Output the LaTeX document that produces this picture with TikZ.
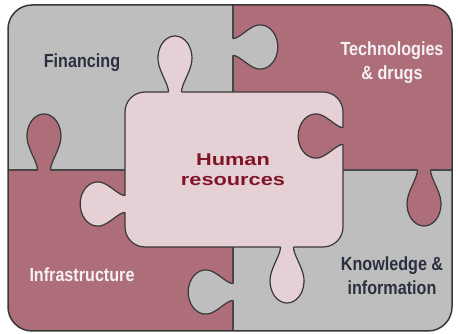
\documentclass[tikz,border=0pt]{standalone}
\usepackage{fontspec}
\setmainfont{Liberation Sans}
\newfontfamily\labelfont[FakeStretch=0.85]{Liberation Sans}
\newfontfamily\centrefont[FakeStretch=1.28]{Liberation Sans}
\usetikzlibrary{positioning}

\definecolor{piecegray}{HTML}{BEBEBE}
\definecolor{piecemauve}{HTML}{AD6E79}
\definecolor{piecepink}{HTML}{E5D1D5}
\definecolor{darklabel}{HTML}{2B3040}
\definecolor{lightlabel}{HTML}{F6F0F4}
\definecolor{centrelabel}{HTML}{821428}

\begin{document}
\begin{tikzpicture}[x=1pt, y=1pt,
    edge/.style={draw=black!78, line width=1.2pt},
    divider/.style={draw=black!72, line width=1.6pt},
    tabshape/.style={insert path={.. controls (-6.5,7) and (-13.1,16.2) .. (-16,26.5)
        arc[start angle=200, end angle=-20, x radius=17, y radius=22]
        .. controls (13.1,16.2) and (6.5,7) .. (6.5,0)}},
    pics/tab/.style={code={
        \fill[#1] (6.5,-3) -- (-6.5,-3) -- (-6.5,0) [tabshape] -- cycle;
        \draw[edge] (-6.5,0) [tabshape];
    }},
    sideways/.style={xscale=1.3, yscale=0.8},
    label/.style={font=\labelfont\bfseries\fontsize{19}{24}\selectfont, align=center}
]
\useasboundingbox (0,0) rectangle (458,334);

% Quarters
\begin{scope}
    \clip[rounded corners=24pt] (8,3) rectangle (452,329);
    \fill[piecegray] (8,164) rectangle (233,329);
    \fill[piecemauve] (233,164) rectangle (452,329);
    \fill[piecemauve] (8,3) rectangle (233,164);
    \fill[piecegray] (233,3) rectangle (452,164);
\end{scope}
\draw[divider] (233,329) -- (233,242);
\draw[divider] (233,87) -- (233,3);
\draw[divider] (8,164) -- (125,164);
\draw[divider] (343,164) -- (452,164);

% Tabs between the quarters
\pic[rotate=-90, sideways] at (233,287) {tab=piecegray};
\pic at (44,164) {tab=piecemauve};
\pic[rotate=180] at (424,164) {tab=piecemauve};
\pic[rotate=90, sideways] at (233,42) {tab=piecegray};

% Centre piece
\draw[edge, fill=piecepink, rounded corners=20pt] (125,87) rectangle (343,242);
\pic at (175,242) {tab=piecepink};
\pic[rotate=90, sideways] at (125,130) {tab=piecepink};
\pic[rotate=180] at (287,87) {tab=piecepink};
\pic[rotate=90, sideways] at (343,198) {tab=piecemauve};

% Labels
\node[label, text=darklabel] (financing) at (82,271) {Financing};
\node[label, text=lightlabel] (technologies) at (392,271) {Technologies\\\& drugs};
\node[label, text=lightlabel] (infrastructure) at (82,59) {Infrastructure};
\node[label, text=darklabel] (knowledge) at (392,58) {Knowledge \&\\information};
\node[font=\centrefont\bfseries\fontsize{17}{20}\selectfont, align=center, text=centrelabel]
    (human) at (233,164) {Human\\resources};

% Frame
\draw[edge, line width=1.5pt, rounded corners=24pt] (8,3) rectangle (452,329);

\end{tikzpicture}
\end{document}
